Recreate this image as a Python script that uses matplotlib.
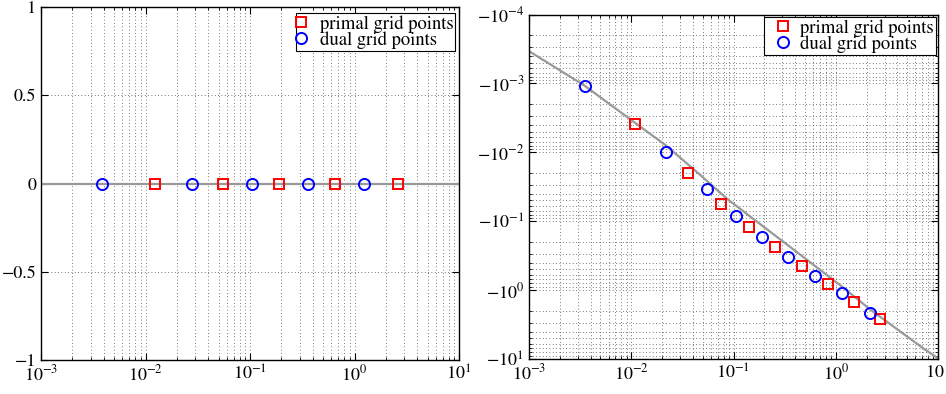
import numpy as np
import matplotlib
matplotlib.use("Agg")
import matplotlib.pyplot as plt
from matplotlib.lines import Line2D
from matplotlib.ticker import LogLocator, FixedLocator, FuncFormatter, NullFormatter

plt.rcParams['font.family'] = ['STIXGeneral', 'DejaVu Serif']
plt.rcParams['mathtext.fontset'] = 'stix'

# ---------------- data ----------------
# left panel
left_primal_x = [0.01233, 0.0555, 0.1906, 0.651, 2.62]
left_primal_y = [0, 0, 0, 0, 0]
left_dual_x = [0.00381, 0.0280, 0.104, 0.356, 1.233]
left_dual_y = [0, 0, 0, 0, 0]
left_line_x = [1e-3, 10]
left_line_y = [0, 0]

# right panel (values are negative)
right_primal_x = [0.0108, 0.0361, 0.0755, 0.142, 0.256, 0.465, 0.840, 1.518, 2.73]
right_primal_y = [-3.93e-3, -1.98e-2, -5.62e-2, -0.120, -0.239, -0.442, -0.824, -1.50, -2.65]
right_dual_x = [0.00353, 0.0217, 0.0547, 0.105, 0.189, 0.344, 0.622, 1.143, 2.16]
right_dual_y = [-1.08e-3, -1.0e-2, -3.44e-2, -8.41e-2, -0.171, -0.327, -0.618, -1.11, -2.13]
right_line_x = [1e-3, 3.5e-3, 1.08e-2, 2.17e-2, 4.5e-2, 8.9e-2, 0.344, 1.14, 2.16, 7.18, 10]
right_line_y = [-3.4e-4, -1.08e-3, -3.7e-3, -7.9e-3, -0.020, -0.049, -0.226, -0.88, -1.9, -7.0, -9.8]

x_ticks = [1e-3, 1e-2, 1e-1, 1e0, 1e1]
left_y_ticks = [-1, -0.5, 0, 0.5, 1]
left_y_labels = ['\u22121', '\u22120.5', '0', '0.5', '1']
right_y_ticks = [1e-4, 1e-3, 1e-2, 1e-1, 1e0, 1e1]
legend_labels = ['primal grid points', 'dual grid points']

# ---------------- figure ----------------
W, H = 946, 394
fig = plt.figure(figsize=(W / 100, H / 100), dpi=100)

def ax_rect(l, t, r, b):
    return [l / W, 1 - b / H, (r - l) / W, (b - t) / H]

axL = fig.add_axes(ax_rect(41, 7, 459, 360))
axR = fig.add_axes(ax_rect(529, 14.5, 938, 359))

line_col = (0.6, 0.6, 0.6)
ms_sq, ms_ci, mew = 7, 8, 1.4
fs_tick = 13
fs_leg = 13.4

grid_kw = dict(color='0.3', linestyle=(0, (1, 3)), linewidth=0.6)

def style(ax):
    for s in ax.spines.values():
        s.set_linewidth(1.0)
        s.set_color('black')
    ax.tick_params(which='both', direction='in', top=True, right=True,
                   labelsize=fs_tick, colors='black')
    ax.tick_params(which='major', length=5, width=0.8)
    ax.tick_params(which='minor', length=2.5, width=0.6)
    ax.set_axisbelow(True)

def xfmt(v, pos):
    return r'$10^{%d}$' % int(round(np.log10(v)))

# ---- left ----
axL.plot(left_line_x, left_line_y, color=line_col, lw=1.6, zorder=2)
axL.plot(left_primal_x, left_primal_y, 's', mfc='none', mec='red', ms=ms_sq, mew=mew, zorder=3)
axL.plot(left_dual_x, left_dual_y, 'o', mfc='none', mec='blue', ms=ms_ci, mew=mew, zorder=3)
axL.set_xscale('log')
axL.set_xlim(1e-3, 10)
axL.set_ylim(-1, 1)
axL.xaxis.set_major_locator(FixedLocator(x_ticks))
axL.xaxis.set_major_formatter(FuncFormatter(xfmt))
axL.xaxis.set_minor_locator(LogLocator(base=10, subs=np.arange(2, 10)))
axL.xaxis.set_minor_formatter(NullFormatter())
axL.set_yticks(left_y_ticks)
axL.set_yticklabels(left_y_labels)
axL.grid(True, which='major', axis='both', **grid_kw)
axL.grid(True, which='minor', axis='x', **grid_kw)
style(axL)

# ---- right ----
axR.plot(right_line_x, -np.array(right_line_y), color=line_col, lw=1.6, zorder=2)
axR.plot(right_primal_x, -np.array(right_primal_y), 's', mfc='none', mec='red', ms=ms_sq, mew=mew, zorder=3)
axR.plot(right_dual_x, -np.array(right_dual_y), 'o', mfc='none', mec='blue', ms=ms_ci, mew=mew, zorder=3)
axR.set_xscale('log')
axR.set_yscale('log')
axR.set_xlim(1e-3, 10)
axR.set_ylim(10, 1e-4)
axR.xaxis.set_major_locator(FixedLocator(x_ticks))
axR.xaxis.set_major_formatter(FuncFormatter(xfmt))
axR.xaxis.set_minor_locator(LogLocator(base=10, subs=np.arange(2, 10)))
axR.xaxis.set_minor_formatter(NullFormatter())
axR.yaxis.set_major_locator(FixedLocator(right_y_ticks))
axR.yaxis.set_major_formatter(FuncFormatter(lambda v, p: r'$-10^{%d}$' % int(round(np.log10(v)))))
axR.yaxis.set_minor_locator(LogLocator(base=10, subs=np.arange(2, 10)))
axR.yaxis.set_minor_formatter(NullFormatter())
axR.grid(True, which='both', axis='both', **grid_kw)
style(axR)

# ---- legends ----
def handles():
    return [Line2D([], [], ls='none', marker='s', mfc='none', mec='red', ms=ms_sq, mew=mew),
            Line2D([], [], ls='none', marker='o', mfc='none', mec='blue', ms=ms_ci, mew=mew)]

legL = axL.legend(handles(), legend_labels, loc='upper right',
                  bbox_to_anchor=(455 / W, 1 - 13 / H), bbox_transform=fig.transFigure,
                  borderaxespad=0, fontsize=fs_leg, fancybox=False, framealpha=1,
                  edgecolor='black', handlelength=0.3, handletextpad=0.85,
                  borderpad=0.1, labelspacing=-0.08, numpoints=1)
legL.get_frame().set_linewidth(0.8)

legR = axR.legend(handles(), legend_labels, loc='upper right',
                  bbox_to_anchor=(935.7 / W, 1 - 17 / H), bbox_transform=fig.transFigure,
                  borderaxespad=0, fontsize=fs_leg, fancybox=False, framealpha=1,
                  edgecolor='black', handlelength=1.8, handletextpad=0.05,
                  borderpad=0.1, labelspacing=-0.08, numpoints=1)
legR.get_frame().set_linewidth(0.8)

fig.savefig('out.png', dpi=100)
